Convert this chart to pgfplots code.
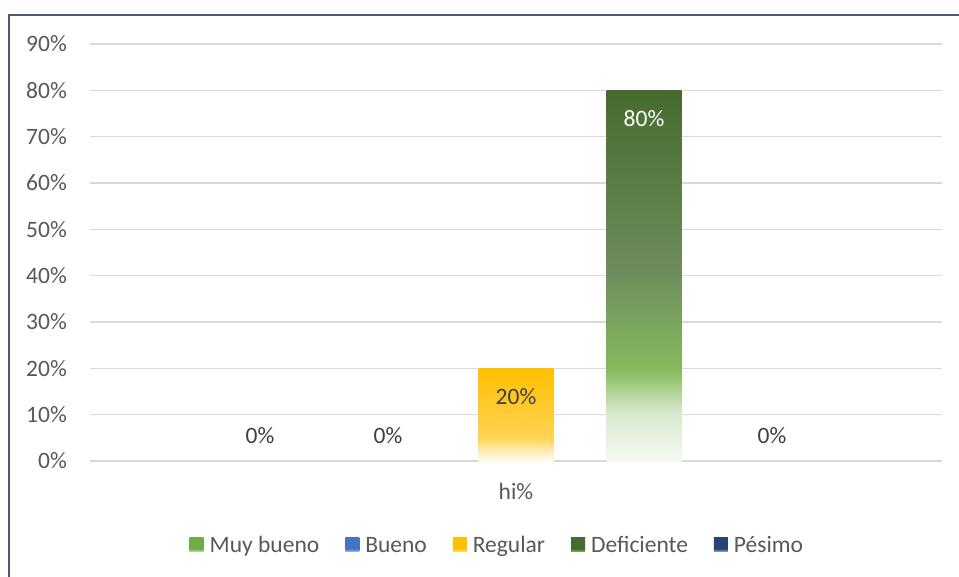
\documentclass[border=0pt]{standalone}
\usepackage{fontspec}
\setmainfont{Carlito}
\usepackage{pgfplots}
\pgfplotsset{compat=1.18}
\definecolor{framec}{HTML}{4B5A73}
\definecolor{gridc}{HTML}{D9D9D9}
\definecolor{textc}{HTML}{595959}
\definecolor{labc}{HTML}{404040}
% Deficiente gradient
\definecolor{dA}{HTML}{F4F9F1}
\definecolor{dB}{HTML}{D8E9CD}
\definecolor{dC}{HTML}{85BB5D}
\definecolor{dD}{HTML}{6F8E5D}
\definecolor{dE}{HTML}{476B2E}
% Regular gradient
\definecolor{rA}{HTML}{FFFBF2}
\definecolor{rB}{HTML}{FFEAB0}
\definecolor{rC}{HTML}{FFD352}
\definecolor{rD}{HTML}{FFC000}
% Legend colours
\definecolor{mbA}{HTML}{70AD47}
\definecolor{bA}{HTML}{4472C4}
\definecolor{pA}{HTML}{264478}
\pgfdeclareverticalshading{defshade}{100bp}{color(0bp)=(dA); color(25bp)=(dA); color(31.5bp)=(dB); color(37.25bp)=(dC); color(50bp)=(dD); color(75bp)=(dE); color(100bp)=(dE)}
\pgfdeclareverticalshading{regshade}{100bp}{color(0bp)=(rA); color(25bp)=(rA); color(31bp)=(rB); color(37.5bp)=(rC); color(75bp)=(rD); color(100bp)=(rD)}
\pgfdeclareverticalshading{mbshade}{100bp}{color(0bp)=(white); color(25bp)=(white!60!mbA); color(37bp)=(mbA); color(100bp)=(mbA)}
\pgfdeclareverticalshading{bshade}{100bp}{color(0bp)=(white); color(25bp)=(white!60!bA); color(37bp)=(bA); color(100bp)=(bA)}
\pgfdeclareverticalshading{rlshade}{100bp}{color(0bp)=(white); color(25bp)=(white!60!rD); color(37bp)=(rD); color(100bp)=(rD)}
\pgfdeclareverticalshading{dlshade}{100bp}{color(0bp)=(white); color(25bp)=(dC); color(37bp)=(dE); color(100bp)=(dE)}
\pgfdeclareverticalshading{pshade}{100bp}{color(0bp)=(white); color(25bp)=(white!60!pA); color(37bp)=(pA); color(100bp)=(pA)}
\begin{document}
\begin{tikzpicture}[font=\fontsize{23.5pt}{28pt}\selectfont]
\path[use as bounding box] (0pt,0pt) rectangle (959pt,-577pt);
\fill[white] (0pt,0pt) rectangle (959pt,-577pt);
\draw[framec, line width=2pt] (9pt,-580pt) -- (9pt,-15pt) -- (962pt,-15pt);
\begin{axis}[
  at={(90pt,-461pt)}, anchor=south west,
  scale only axis, width=852pt, height=417pt,
  xmin=-1, xmax=1, ymin=0, ymax=90,
  /pgf/number format/assume math mode=true,
  ytick={0,10,...,90},
  yticklabels={0\%,10\%,20\%,30\%,40\%,50\%,60\%,70\%,80\%,90\%},
  xtick={0}, xticklabels={hi\%},
  ymajorgrids, grid style={color=gridc, line width=1.3pt},
  axis line style={draw=none}, tick style={draw=none},
  major tick length=0pt,
  ticklabel style={text=textc, font=\fontsize{23.5pt}{28pt}\selectfont},
  yticklabel style={anchor=east, inner sep=0pt, xshift=-23pt},
  xticklabel style={anchor=center, inner sep=0pt, yshift=-30pt},
  ybar=53pt, bar width=75pt,
  nodes near coords={\pgfmathprintnumber{\pgfplotspointmeta}\%},
  every node near coord/.append style={text=labc, anchor=center, font=\fontsize{23.5pt}{28pt}\selectfont},
  legend columns=5,
  legend style={at={(0.477,-0.2014)}, anchor=center, draw=none, fill=none,
    font=\fontsize{23.5pt}{28pt}\selectfont, text=textc,
    /tikz/every odd column/.append style={column sep=6pt},
    /tikz/every even column/.append style={column sep=26pt},
    nodes={inner xsep=0pt, inner ysep=0pt, text height=15pt, text depth=0pt}},
  clip=false,
]
\addplot[draw=none, fill=none, every node near coord/.append style={yshift=25pt},
  legend image code/.code={\shade[shading=mbshade] (0pt,-7pt) rectangle (14pt,7pt);}]
  coordinates {(0,0)};
\addlegendentry{Muy bueno}
\addplot[draw=none, fill=none, every node near coord/.append style={yshift=25pt},
  legend image code/.code={\shade[shading=bshade] (0pt,-7pt) rectangle (14pt,7pt);}]
  coordinates {(0,0)};
\addlegendentry{Bueno}
\addplot[draw=none, shading=regshade, every node near coord/.append style={yshift=-28pt},
  legend image code/.code={\shade[shading=rlshade] (0pt,-7pt) rectangle (14pt,7pt);}]
  coordinates {(0,20)};
\addlegendentry{Regular}
\addplot[draw=none, shading=defshade, every node near coord/.append style={yshift=-28pt, text=white},
  legend image code/.code={\shade[shading=dlshade] (0pt,-7pt) rectangle (14pt,7pt);}]
  coordinates {(0,80)};
\addlegendentry{Deficiente}
\addplot[draw=none, fill=none, every node near coord/.append style={yshift=25pt},
  legend image code/.code={\shade[shading=pshade] (0pt,-7pt) rectangle (14pt,7pt);}]
  coordinates {(0,0)};
\addlegendentry{Pésimo}
\end{axis}
\end{tikzpicture}
\end{document}
